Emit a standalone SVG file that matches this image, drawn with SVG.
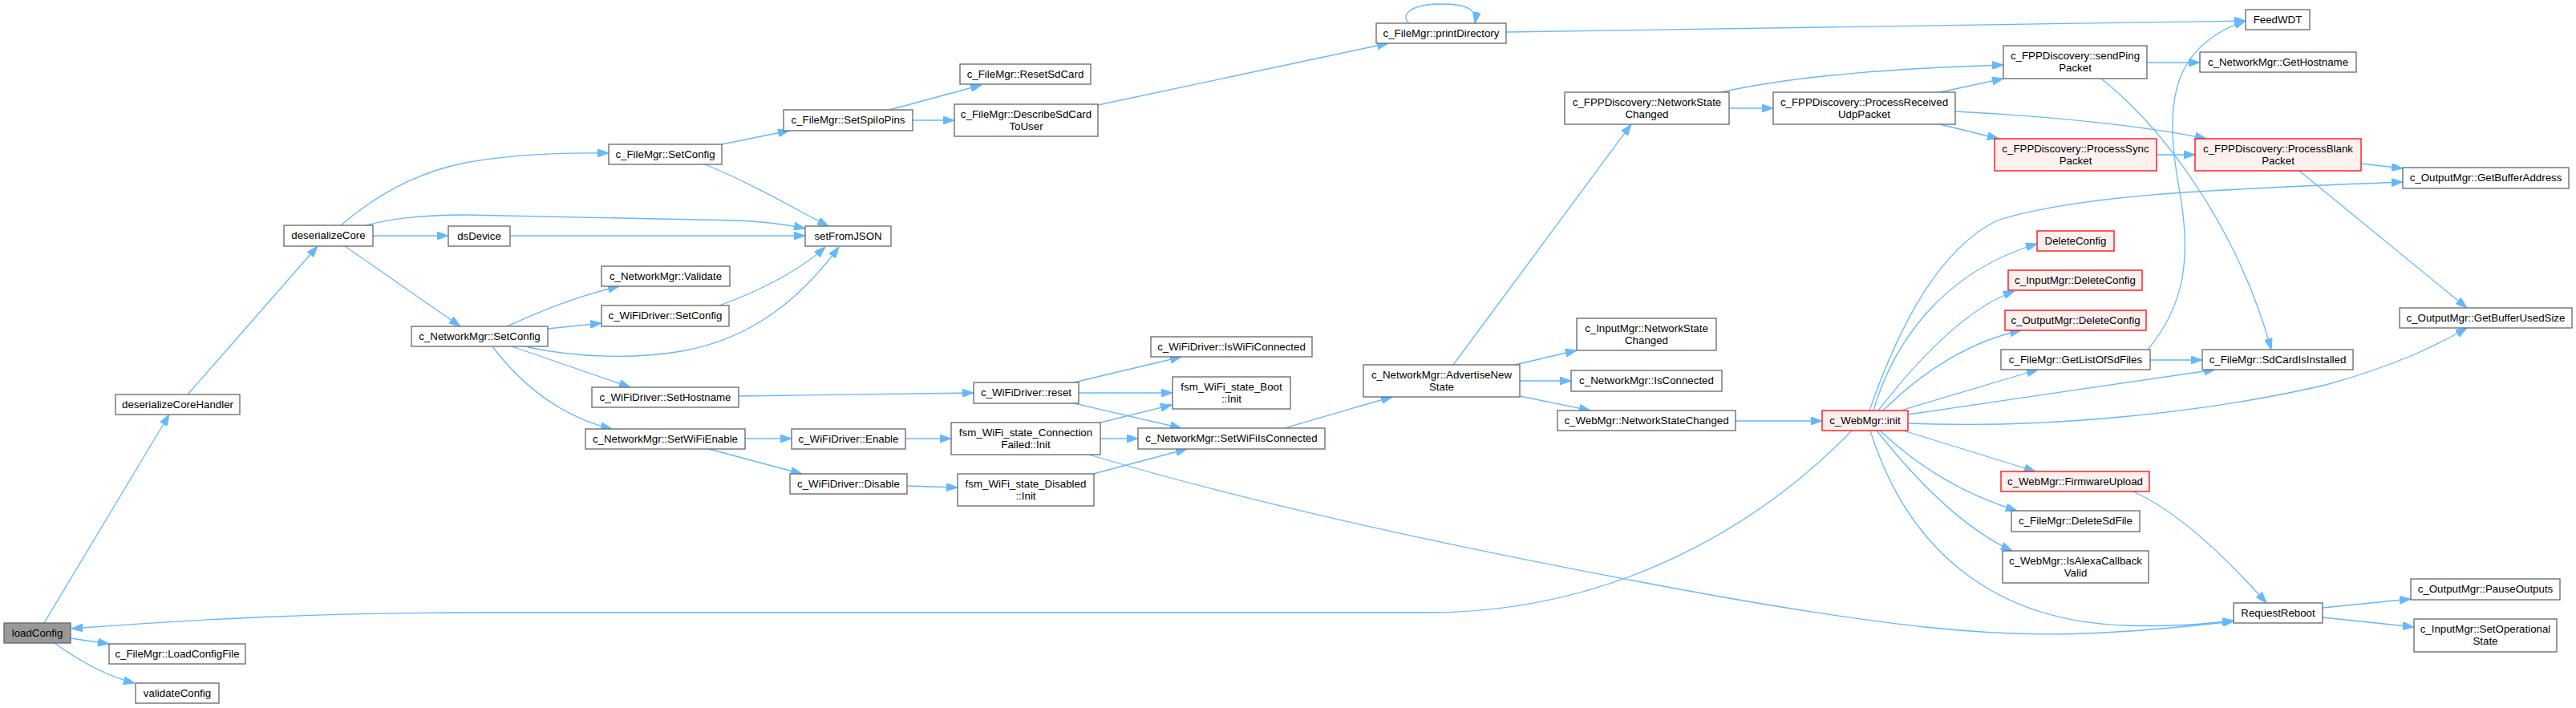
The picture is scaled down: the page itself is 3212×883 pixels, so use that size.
<svg xmlns="http://www.w3.org/2000/svg" width="3212" height="883" viewBox="0 0 3212 883">
<style>
.n rect{fill:#ffffff;stroke:#666666;stroke-width:1.3}
.r rect{fill:#fff0f0;stroke:#ff0000;stroke-width:1.3}
.g rect{fill:#999999;stroke:#666666;stroke-width:1.3}
text{font-family:"Liberation Sans",Arial,Helvetica,sans-serif;font-size:13.3px;text-anchor:middle;fill:#000000}
#edges path{fill:none;stroke:#63b8ff;stroke-width:1.3;marker-end:url(#a)}
</style>
<defs>
<marker id="a" markerUnits="userSpaceOnUse" markerWidth="14" markerHeight="10" refX="14" refY="5" orient="auto" viewBox="0 0 14 10">
<path d="M0,0 L14,5 L0,10 Z" fill="#63b8ff" stroke="#63b8ff" stroke-width="1"/>
</marker>
</defs>
<rect width="3212" height="883" fill="#ffffff"/>
<g id="edges">
<path d="M55,777 L211,517"/>
<path d="M88,796 L136,803"/>
<path d="M68,802 C100,825 135,844 168,852"/>
<path d="M234,492 L396,307"/>
<path d="M425,281 C470,242 520,215 580,203 C640,192 700,190 759,191"/>
<path d="M457,281 C490,272 530,268 580,268 L920,275 C950,276 980,280 1004,285"/>
<path d="M465,294 L559,294"/>
<path d="M636,294 L1004,294"/>
<path d="M430,307 L574,407"/>
<path d="M900,180 L984,163"/>
<path d="M879,205 C940,230 990,260 1033,282"/>
<path d="M1109,137 L1224,106"/>
<path d="M1138,150 L1190,150"/>
<path d="M1369,131 L1731,54"/>
<path d="M1757,29 C1745,18 1760,5 1797,5 C1830,5 1842,12 1839,29"/>
<path d="M1878,40 C2200,35 2500,30 2800,26"/>
<path d="M632,407 C670,390 710,372 772,357"/>
<path d="M683,410 L750,403"/>
<path d="M897,381 C950,362 1000,335 1029,308"/>
<path d="M658,433 C720,446 790,448 850,438 C940,422 1000,370 1046,308"/>
<path d="M638,432 L786,483"/>
<path d="M614,432 C650,480 700,520 763,535"/>
<path d="M921,494 L1214,490"/>
<path d="M929,547 L987,547"/>
<path d="M884,560 L1000,591"/>
<path d="M1129,547 L1186,547"/>
<path d="M1131,606 L1194,608"/>
<path d="M1339,477 L1473,445"/>
<path d="M1345,490 L1462,490"/>
<path d="M1339,503 L1473,534"/>
<path d="M1372,527 L1461,505"/>
<path d="M1372,547 L1419,547"/>
<path d="M1358,567 C1600,640 1900,700 2150,745 C2350,780 2480,795 2600,790 C2680,787 2740,780 2785,775"/>
<path d="M1602,534 C1650,520 1700,505 1736,495"/>
<path d="M1363,591 L1480,560"/>
<path d="M1812,455 L2034,155"/>
<path d="M1889,455 L1966,437"/>
<path d="M1895,475 L1959,475"/>
<path d="M1895,494 L1983,512"/>
<path d="M2164,525 L2272,525"/>
<path d="M2146,115 C2250,92 2380,85 2498,81"/>
<path d="M2156,135 L2211,135"/>
<path d="M2419,115 L2498,98"/>
<path d="M2419,155 L2492,173"/>
<path d="M2438,139 C2560,145 2680,158 2751,173"/>
<path d="M2689,193 L2737,193"/>
<path d="M2944,204 L2996,210"/>
<path d="M2867,213 L3076,384"/>
<path d="M2677,78 L2743,78"/>
<path d="M2620,98 C2710,170 2795,300 2832,436"/>
<path d="M2678,436 C2725,380 2732,320 2718,240 C2700,140 2700,60 2800,26"/>
<path d="M2681,449 L2746,449"/>
<path d="M2331,512 C2370,400 2420,310 2490,275 C2600,240 2800,235 2996,227"/>
<path d="M2336,512 C2360,430 2420,340 2540,304"/>
<path d="M2342,512 C2390,450 2450,385 2512,363"/>
<path d="M2348,512 C2400,460 2460,425 2520,412"/>
<path d="M2373,511 L2541,461"/>
<path d="M2379,517 L2762,461"/>
<path d="M2379,528 C2550,535 2750,515 2900,480 C2990,455 3040,430 3076,409"/>
<path d="M2373,537 L2538,588"/>
<path d="M2344,537 C2400,590 2460,620 2515,637"/>
<path d="M2340,537 C2390,600 2450,660 2509,687"/>
<path d="M2332,537 C2380,690 2490,775 2650,780 C2710,782 2750,778 2785,774"/>
<path d="M2660,613 C2720,640 2780,700 2826,752"/>
<path d="M2896,758 L3006,747"/>
<path d="M2896,770 L3010,782"/>
<path d="M2309,537 C2200,650 2020,764 1780,764 L600,764 C400,764 250,772 89,784"/>
</g>
<g id="loadConfig" class="g"><rect x="5" y="777" width="83" height="25"/><text x="46.5" y="794">loadConfig</text></g>
<g id="deserializeCoreHandler" class="n"><rect x="144" y="492" width="155" height="25"/><text x="221.5" y="509">deserializeCoreHandler</text></g>
<g id="LoadConfigFile" class="n"><rect x="136" y="803" width="170" height="25"/><text x="221" y="820">c_FileMgr::LoadConfigFile</text></g>
<g id="validateConfig" class="n"><rect x="169" y="852" width="104" height="25"/><text x="221" y="869">validateConfig</text></g>
<g id="deserializeCore" class="n"><rect x="354" y="281" width="111" height="26"/><text x="409.5" y="298">deserializeCore</text></g>
<g id="dsDevice" class="n"><rect x="559" y="282" width="77" height="25"/><text x="597.5" y="299">dsDevice</text></g>
<g id="FileMgrSetConfig" class="n"><rect x="759" y="180" width="141" height="25"/><text x="829.5" y="197">c_FileMgr::SetConfig</text></g>
<g id="NetworkMgrSetConfig" class="n"><rect x="513" y="407" width="170" height="25"/><text x="598" y="424">c_NetworkMgr::SetConfig</text></g>
<g id="NetworkMgrValidate" class="n"><rect x="750" y="332" width="160" height="25"/><text x="830" y="349">c_NetworkMgr::Validate</text></g>
<g id="WiFiDriverSetConfig" class="n"><rect x="750" y="381" width="159" height="26"/><text x="829.5" y="398">c_WiFiDriver::SetConfig</text></g>
<g id="WiFiDriverSetHostname" class="n"><rect x="738" y="483" width="183" height="25"/><text x="829.5" y="500">c_WiFiDriver::SetHostname</text></g>
<g id="NetworkMgrSetWiFiEnable" class="n"><rect x="730" y="535" width="199" height="25"/><text x="829.5" y="552">c_NetworkMgr::SetWiFiEnable</text></g>
<g id="setFromJSON" class="n"><rect x="1004" y="282" width="107" height="25"/><text x="1057.5" y="299">setFromJSON</text></g>
<g id="SetSpiIoPins" class="n"><rect x="977" y="137" width="161" height="26"/><text x="1057.5" y="154">c_FileMgr::SetSpiIoPins</text></g>
<g id="WiFiDriverEnable" class="n"><rect x="987" y="535" width="142" height="25"/><text x="1058" y="552">c_WiFiDriver::Enable</text></g>
<g id="WiFiDriverDisable" class="n"><rect x="985" y="591" width="146" height="25"/><text x="1058" y="608">c_WiFiDriver::Disable</text></g>
<g id="ResetSdCard" class="n"><rect x="1197" y="80" width="163" height="25"/><text x="1278.5" y="97">c_FileMgr::ResetSdCard</text></g>
<g id="DescribeSdCardToUser" class="n"><rect x="1190" y="130" width="179" height="40"/><text x="1279.5" y="147">c_FileMgr::DescribeSdCard</text><text x="1279.5" y="162">ToUser</text></g>
<g id="WiFiDriverReset" class="n"><rect x="1214" y="477" width="131" height="26"/><text x="1279.5" y="494">c_WiFiDriver::reset</text></g>
<g id="ConnectionFailedInit" class="n"><rect x="1186" y="527" width="186" height="40"/><text x="1279" y="544">fsm_WiFi_state_Connection</text><text x="1279" y="559">Failed::Init</text></g>
<g id="DisabledInit" class="n"><rect x="1194" y="591" width="170" height="40"/><text x="1279" y="608">fsm_WiFi_state_Disabled</text><text x="1279" y="623">::Init</text></g>
<g id="IsWiFiConnected" class="n"><rect x="1435" y="420" width="201" height="25"/><text x="1535.5" y="437">c_WiFiDriver::IsWiFiConnected</text></g>
<g id="BootInit" class="n"><rect x="1462" y="470" width="147" height="40"/><text x="1535.5" y="487">fsm_WiFi_state_Boot</text><text x="1535.5" y="502">::Init</text></g>
<g id="SetWiFiIsConnected" class="n"><rect x="1419" y="534" width="233" height="26"/><text x="1535.5" y="551">c_NetworkMgr::SetWiFiIsConnected</text></g>
<g id="printDirectory" class="n"><rect x="1716" y="29" width="162" height="25"/><text x="1797" y="46">c_FileMgr::printDirectory</text></g>
<g id="AdvertiseNewState" class="n"><rect x="1700" y="455" width="195" height="40"/><text x="1797.5" y="472">c_NetworkMgr::AdvertiseNew</text><text x="1797.5" y="487">State</text></g>
<g id="FPPNetworkStateChanged" class="n"><rect x="1951" y="115" width="205" height="40"/><text x="2053.5" y="132">c_FPPDiscovery::NetworkState</text><text x="2053.5" y="147">Changed</text></g>
<g id="InputMgrNetworkStateChanged" class="n"><rect x="1966" y="397" width="174" height="40"/><text x="2053" y="414">c_InputMgr::NetworkState</text><text x="2053" y="429">Changed</text></g>
<g id="IsConnected" class="n"><rect x="1959" y="462" width="188" height="26"/><text x="2053" y="479">c_NetworkMgr::IsConnected</text></g>
<g id="WebMgrNetworkStateChanged" class="n"><rect x="1942" y="512" width="222" height="25"/><text x="2053" y="529">c_WebMgr::NetworkStateChanged</text></g>
<g id="ProcessReceivedUdpPacket" class="n"><rect x="2211" y="115" width="227" height="40"/><text x="2324.5" y="132">c_FPPDiscovery::ProcessReceived</text><text x="2324.5" y="147">UdpPacket</text></g>
<g id="WebMgrInit" class="r"><rect x="2272" y="512" width="107" height="25"/><text x="2325.5" y="529">c_WebMgr::init</text></g>
<g id="sendPingPacket" class="n"><rect x="2498" y="57" width="179" height="41"/><text x="2587.5" y="74">c_FPPDiscovery::sendPing</text><text x="2587.5" y="89">Packet</text></g>
<g id="ProcessSyncPacket" class="r"><rect x="2487" y="173" width="202" height="40"/><text x="2588" y="190">c_FPPDiscovery::ProcessSync</text><text x="2588" y="205">Packet</text></g>
<g id="DeleteConfig" class="r"><rect x="2540" y="288" width="96" height="25"/><text x="2588" y="305">DeleteConfig</text></g>
<g id="InputMgrDeleteConfig" class="r"><rect x="2504" y="337" width="167" height="25"/><text x="2587.5" y="354">c_InputMgr::DeleteConfig</text></g>
<g id="OutputMgrDeleteConfig" class="r"><rect x="2500" y="387" width="176" height="25"/><text x="2588" y="404">c_OutputMgr::DeleteConfig</text></g>
<g id="GetListOfSdFiles" class="n"><rect x="2495" y="436" width="186" height="25"/><text x="2588" y="453">c_FileMgr::GetListOfSdFiles</text></g>
<g id="FirmwareUpload" class="r"><rect x="2495" y="588" width="185" height="25"/><text x="2587.5" y="605">c_WebMgr::FirmwareUpload</text></g>
<g id="DeleteSdFile" class="n"><rect x="2508" y="637" width="160" height="26"/><text x="2588" y="654">c_FileMgr::DeleteSdFile</text></g>
<g id="IsAlexaCallbackValid" class="n"><rect x="2497" y="687" width="182" height="40"/><text x="2588" y="704">c_WebMgr::IsAlexaCallback</text><text x="2588" y="719">Valid</text></g>
<g id="FeedWDT" class="n"><rect x="2800" y="12" width="80" height="25"/><text x="2840" y="29">FeedWDT</text></g>
<g id="GetHostname" class="n"><rect x="2743" y="65" width="195" height="25"/><text x="2840.5" y="82">c_NetworkMgr::GetHostname</text></g>
<g id="ProcessBlankPacket" class="r"><rect x="2737" y="173" width="207" height="40"/><text x="2840.5" y="190">c_FPPDiscovery::ProcessBlank</text><text x="2840.5" y="205">Packet</text></g>
<g id="SdCardIsInstalled" class="n"><rect x="2746" y="436" width="188" height="25"/><text x="2840" y="453">c_FileMgr::SdCardIsInstalled</text></g>
<g id="RequestReboot" class="n"><rect x="2785" y="752" width="111" height="25"/><text x="2840.5" y="769">RequestReboot</text></g>
<g id="GetBufferAddress" class="n"><rect x="2996" y="209" width="207" height="26"/><text x="3099.5" y="226">c_OutputMgr::GetBufferAddress</text></g>
<g id="GetBufferUsedSize" class="n"><rect x="2992" y="384" width="215" height="25"/><text x="3099.5" y="401">c_OutputMgr::GetBufferUsedSize</text></g>
<g id="PauseOutputs" class="n"><rect x="3006" y="722" width="186" height="26"/><text x="3099" y="739">c_OutputMgr::PauseOutputs</text></g>
<g id="SetOperationalState" class="n"><rect x="3010" y="772" width="178" height="41"/><text x="3099" y="789">c_InputMgr::SetOperational</text><text x="3099" y="804">State</text></g>
</svg>
